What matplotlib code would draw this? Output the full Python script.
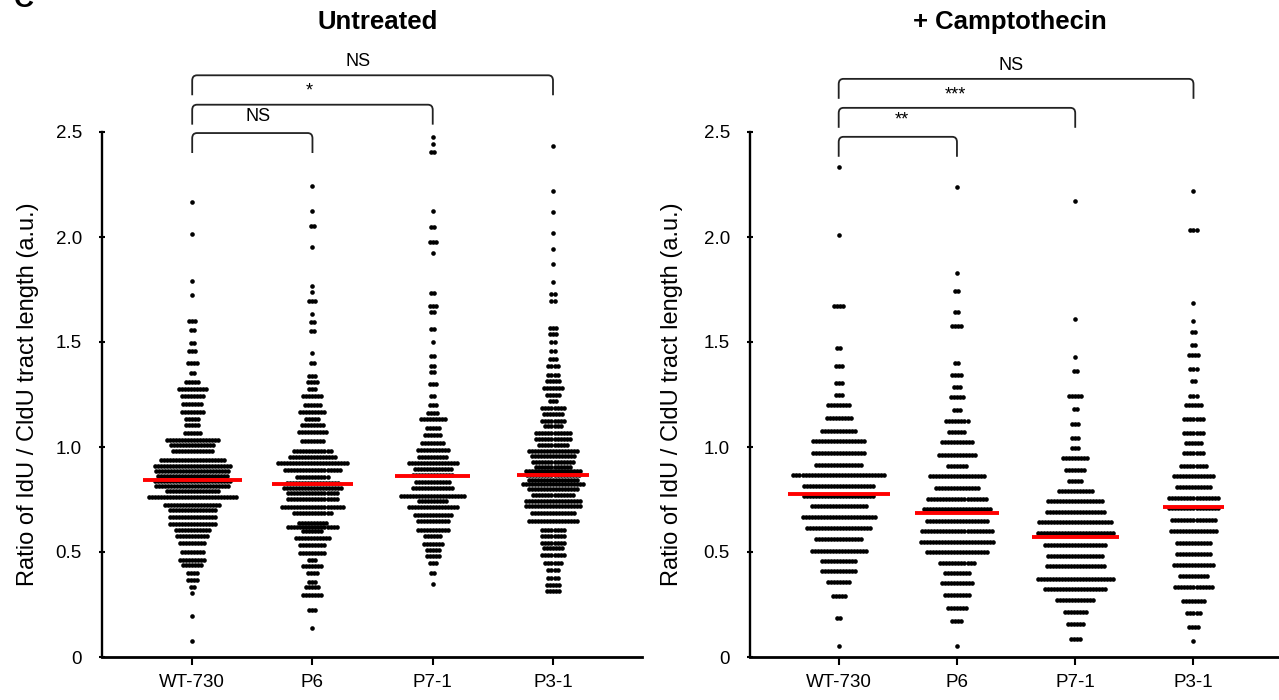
import numpy as np
import matplotlib.pyplot as plt
from matplotlib.path import Path
from matplotlib.patches import PathPatch

plt.rcParams['font.family'] = ['Liberation Sans', 'DejaVu Sans']

groups = ["WT-730", "P6", "P7-1", "P3-1"]
y_ticks = [0, 0.5, 1.0, 1.5, 2.0, 2.5]
y_tick_labels = ["0", "0.5", "1.0", "1.5", "2.0", "2.5"]
y_label = "Ratio of IdU / CldU tract length (a.u.)"

# ---- Untreated: dot rows (value of the row, number of fibres in it) ----
untreated_wt_levels = [2.166, 2.013, 1.789, 1.724, 1.600, 1.557, 1.497, 1.457, 1.398, 1.353,
                       1.309, 1.277, 1.242, 1.207, 1.167, 1.134, 1.107, 1.067, 1.035, 1.008,
                       0.980, 0.940, 0.911, 0.884, 0.860, 0.838, 0.816, 0.789, 0.762, 0.725,
                       0.701, 0.669, 0.635, 0.603, 0.577, 0.542, 0.502, 0.463, 0.436, 0.402,
                       0.367, 0.335, 0.304, 0.196, 0.078]
untreated_wt_counts = [1, 1, 1, 1, 3, 2, 2, 3, 4, 2,
                       5, 10, 8, 7, 8, 5, 5, 6, 18, 15,
                       14, 22, 26, 25, 24, 26, 25, 18, 30, 19,
                       16, 16, 16, 12, 11, 9, 8, 9, 7, 4,
                       4, 2, 1, 1, 1]

untreated_p6_levels = [2.244, 2.125, 2.053, 1.953, 1.767, 1.738, 1.695, 1.632, 1.597, 1.552,
                       1.449, 1.401, 1.337, 1.309, 1.277, 1.245, 1.202, 1.166, 1.131, 1.107,
                       1.070, 1.027, 0.980, 0.953, 0.924, 0.892, 0.858, 0.828, 0.805, 0.781,
                       0.752, 0.712, 0.686, 0.640, 0.620, 0.598, 0.566, 0.534, 0.495, 0.463,
                       0.431, 0.399, 0.359, 0.332, 0.296, 0.224, 0.137]
untreated_p6_counts = [1, 1, 2, 1, 1, 1, 3, 1, 2, 2,
                       1, 2, 3, 4, 3, 7, 6, 9, 5, 8,
                       10, 8, 13, 16, 24, 19, 11, 18, 20, 17,
                       17, 21, 13, 10, 17, 7, 12, 9, 9, 3,
                       7, 4, 3, 5, 7, 3, 1]

untreated_p7_levels = [2.475, 2.443, 2.403, 2.125, 2.050, 1.974, 1.926, 1.735, 1.671, 1.645,
                       1.560, 1.500, 1.433, 1.385, 1.356, 1.300, 1.245, 1.202, 1.163, 1.131,
                       1.091, 1.059, 1.020, 0.988, 0.953, 0.924, 0.896, 0.868, 0.834, 0.805,
                       0.768, 0.741, 0.714, 0.678, 0.646, 0.606, 0.574, 0.539, 0.510, 0.479,
                       0.447, 0.399, 0.348]
untreated_p7_counts = [1, 1, 2, 1, 2, 3, 1, 2, 3, 2,
                       2, 1, 2, 2, 2, 3, 2, 3, 4, 9,
                       5, 6, 8, 11, 10, 17, 13, 14, 12, 14,
                       22, 10, 17, 13, 11, 11, 6, 7, 5, 5,
                       3, 2, 1]

untreated_p3_levels = [2.435, 2.220, 2.117, 2.021, 1.942, 1.870, 1.786, 1.727, 1.695, 1.568,
                       1.536, 1.500, 1.457, 1.417, 1.385, 1.345, 1.313, 1.282, 1.250, 1.218,
                       1.187, 1.155, 1.123, 1.099, 1.067, 1.039, 1.011, 0.980, 0.956, 0.927,
                       0.905, 0.884, 0.865, 0.845, 0.825, 0.800, 0.773, 0.741, 0.717, 0.686,
                       0.650, 0.606, 0.577, 0.545, 0.519, 0.487, 0.450, 0.415, 0.375, 0.344,
                       0.312]
untreated_p3_counts = [1, 1, 1, 1, 1, 1, 1, 2, 2, 3,
                       3, 2, 2, 3, 4, 4, 5, 7, 5, 3,
                       8, 7, 8, 6, 12, 12, 10, 17, 15, 14,
                       12, 19, 18, 17, 21, 17, 14, 19, 19, 15,
                       17, 8, 8, 8, 7, 8, 6, 4, 4, 5,
                       5]

# ---- + Camptothecin ----
campto_wt_levels = [2.335, 2.009, 1.671, 1.473, 1.388, 1.306, 1.250, 1.198, 1.139, 1.075,
                    1.027, 0.972, 0.916, 0.868, 0.816, 0.768, 0.717, 0.666, 0.614, 0.562,
                    0.506, 0.455, 0.410, 0.355, 0.291, 0.188, 0.054]
campto_wt_counts = [1, 1, 4, 2, 3, 3, 3, 8, 9, 12,
                    18, 18, 16, 31, 24, 24, 19, 25, 22, 16,
                    19, 12, 12, 8, 5, 2, 1]

campto_p6_levels = [2.236, 1.827, 1.743, 1.643, 1.576, 1.401, 1.345, 1.285, 1.237, 1.178,
                    1.123, 1.070, 1.022, 0.964, 0.911, 0.860, 0.805, 0.752, 0.705, 0.650,
                    0.601, 0.550, 0.500, 0.447, 0.399, 0.352, 0.296, 0.232, 0.173, 0.054]
campto_p6_counts = [1, 1, 2, 2, 4, 2, 4, 3, 5, 3,
                    8, 6, 11, 13, 7, 19, 15, 20, 23, 21,
                    24, 25, 21, 12, 9, 11, 9, 7, 4, 1]

campto_p7_levels = [2.172, 1.611, 1.428, 1.361, 1.245, 1.180, 1.111, 1.043, 0.996, 0.948,
                    0.889, 0.837, 0.789, 0.741, 0.689, 0.641, 0.590, 0.534, 0.482, 0.431,
                    0.371, 0.323, 0.272, 0.216, 0.157, 0.084]
campto_p7_counts = [1, 1, 1, 2, 5, 2, 3, 3, 3, 9,
                    7, 5, 12, 19, 20, 25, 26, 21, 19, 20,
                    26, 21, 13, 8, 6, 4]

campto_p3_levels = [2.220, 2.032, 1.687, 1.600, 1.549, 1.484, 1.436, 1.373, 1.313, 1.245,
                    1.198, 1.131, 1.067, 1.020, 0.972, 0.908, 0.860, 0.810, 0.757, 0.710,
                    0.654, 0.598, 0.542, 0.491, 0.439, 0.386, 0.335, 0.269, 0.208, 0.145,
                    0.078]
campto_p3_counts = [1, 3, 1, 1, 2, 2, 4, 3, 2, 3,
                    6, 7, 7, 6, 7, 9, 14, 12, 17, 17,
                    15, 16, 12, 12, 14, 10, 13, 8, 5, 4,
                    1]

untreated_medians = [0.845, 0.825, 0.864, 0.865]
campto_medians = [0.778, 0.686, 0.571, 0.714]

untreated_tests = [(1, 2, "NS"), (1, 3, "*"), (1, 4, "NS")]
campto_tests = [(1, 2, "**"), (1, 3, "***"), (1, 4, "NS")]

untreated_rows = [(untreated_wt_levels, untreated_wt_counts),
                  (untreated_p6_levels, untreated_p6_counts),
                  (untreated_p7_levels, untreated_p7_counts),
                  (untreated_p3_levels, untreated_p3_counts)]
campto_rows = [(campto_wt_levels, campto_wt_counts),
               (campto_p6_levels, campto_p6_counts),
               (campto_p7_levels, campto_p7_counts),
               (campto_p3_levels, campto_p3_counts)]


def draw_swarm(ax, xc, levels, counts, median, step):
    xs, ys = [], []
    for lv, n in zip(levels, counts):
        offs = (np.arange(n) - (n - 1) / 2.0) * step
        xs.extend(xc + offs)
        ys.extend([lv] * n)
    ax.scatter(xs, ys, s=11, c='black', linewidths=0, zorder=2, clip_on=False)
    half = (max(counts) - 1) / 2.0 * step + 0.05
    ax.plot([xc - half, xc + half], [median, median], color='#ff0000',
            lw=2.8, solid_capstyle='butt', zorder=3)


def bracket(ax, x1, x2, y_top, drop, rx, ry):
    verts = [(x1, y_top - drop), (x1, y_top - ry), (x1, y_top), (x1 + rx, y_top),
             (x2 - rx, y_top), (x2, y_top), (x2, y_top - ry), (x2, y_top - drop)]
    codes = [Path.MOVETO, Path.LINETO, Path.CURVE3, Path.CURVE3,
             Path.LINETO, Path.CURVE3, Path.CURVE3, Path.LINETO]
    ax.add_patch(PathPatch(Path(verts, codes), fill=False, lw=1.3,
                           edgecolor='#222222', clip_on=False))


def style_axes(ax, title, title_x):
    ax.set_xlim(0.25, 4.74)
    ax.set_ylim(0, 2.5)
    for side in ('top', 'right'):
        ax.spines[side].set_visible(False)
    ax.spines['left'].set_linewidth(1.7)
    ax.spines['bottom'].set_linewidth(2.0)
    ax.set_xticks(range(1, len(groups) + 1))
    ax.set_xticklabels(groups, fontsize=13.5)
    ax.set_yticks(y_ticks)
    ax.set_yticklabels(y_tick_labels, fontsize=13.5)
    ax.tick_params(axis='x', direction='out', length=6, width=1.5, pad=6)
    ax.tick_params(axis='y', direction='inout', length=5, width=1.5, pad=12)
    ax.set_ylabel(y_label, fontsize=17, va='center')
    ax.text(title_x, 1.21, title, transform=ax.transAxes, ha='center',
            va='center', fontsize=18.5, fontweight='bold')


fig = plt.figure(figsize=(12.79, 7.0), dpi=100)
ax1 = fig.add_axes([102 / 1279, 43 / 700, 540 / 1279, 525 / 700])
ax2 = fig.add_axes([750 / 1279, 43 / 700, 531 / 1279, 525 / 700])

for i, (lv, ct) in enumerate(untreated_rows):
    draw_swarm(ax1, i + 1, lv, ct, untreated_medians[i], 0.025)
for i, (lv, ct) in enumerate(campto_rows):
    draw_swarm(ax2, i + 1, lv, ct, campto_medians[i], 0.0255)

style_axes(ax1, "Untreated", 0.51)
style_axes(ax2, "+ Camptothecin", 0.49)
ax1.yaxis.set_label_coords(-0.137, 0.5)
ax2.yaxis.set_label_coords(-0.147, 0.5)

# significance brackets above the plotting area
untreated_bracket_tops = [2.495, 2.63, 2.77]
untreated_text_pos = [(1.55, 2.575), (1.97, 2.695), (2.38, 2.835)]
campto_bracket_tops = [2.477, 2.615, 2.753]
campto_text_pos = [(1.53, 2.555), (1.99, 2.675), (2.46, 2.815)]

for ax, tests, tops, tpos in [(ax1, untreated_tests, untreated_bracket_tops, untreated_text_pos),
                              (ax2, campto_tests, campto_bracket_tops, campto_text_pos)]:
    for (a, b, label), top, (tx, ty) in zip(tests, tops, tpos):
        bracket(ax, a, b, top, 0.095, 0.04, 0.025)
        ax.text(tx, ty, label, ha='center', va='center', fontsize=13,
                clip_on=False)

fig.text(24 / 1279, 0.99, "C", ha='center', va='baseline', fontsize=20,
         fontweight='bold')

fig.savefig("out.png", dpi=100)
